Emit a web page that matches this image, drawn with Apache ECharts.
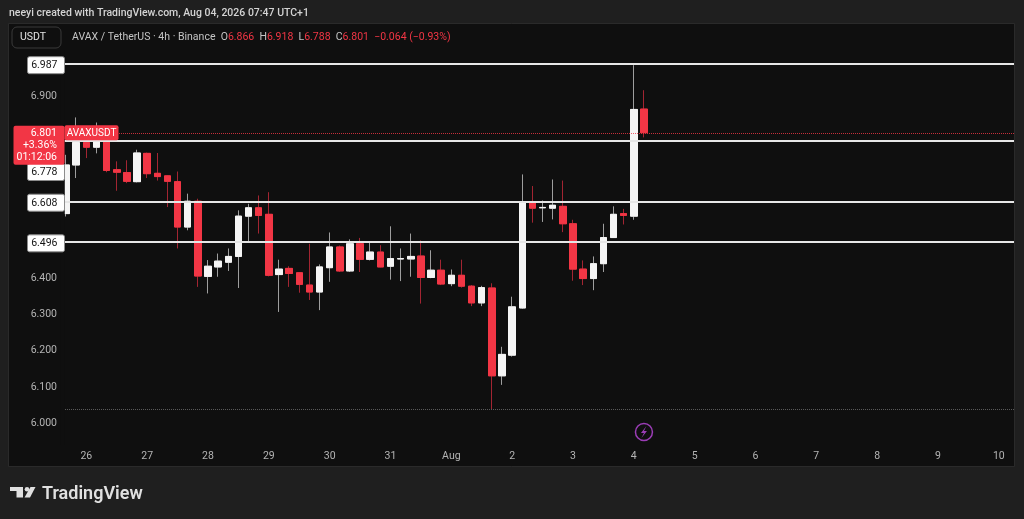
<!DOCTYPE html>
<html>
<head>
<meta charset="utf-8">
<title>AVAX / TetherUS 4h</title>
<script src="https://cdn.jsdelivr.net/npm/echarts@6/dist/echarts.min.js"></script>
<style>
  html, body { margin: 0; padding: 0; background: #1f1f1f; }
  #chart { width: 1024px; height: 519px; }
</style>
</head>
<body>
<div id="chart"></div>
<script>
// 4h candles, AVAXUSDT (Binance)
var opens  = [6.578, 6.712, 6.774, 6.761, 6.776, 6.699, 6.691, 6.666, 6.744, 6.689,
              6.682, 6.666, 6.541, 6.612, 6.405, 6.431, 6.444, 6.460, 6.571, 6.594,
              6.576, 6.410, 6.427, 6.415, 6.381, 6.362, 6.429, 6.486, 6.420, 6.495,
              6.452, 6.472, 6.433, 6.453, 6.453, 6.461, 6.402, 6.422, 6.385, 6.408,
              6.378, 6.332, 6.373, 6.131, 6.188, 6.318, 6.610, 6.594, 6.593, 6.598,
              6.550, 6.425, 6.399, 6.440, 6.512, 6.578, 6.571, 6.866];
var highs  = [6.740, 6.843, 6.790, 6.829, 6.790, 6.722, 6.725, 6.754, 6.746, 6.745,
              6.684, 6.694, 6.633, 6.619, 6.450, 6.468, 6.482, 6.587, 6.605, 6.628,
              6.637, 6.451, 6.433, 6.416, 6.495, 6.438, 6.526, 6.490, 6.507, 6.511,
              6.500, 6.491, 6.543, 6.482, 6.523, 6.504, 6.477, 6.451, 6.424, 6.451,
              6.381, 6.379, 6.386, 6.211, 6.349, 6.686, 6.654, 6.614, 6.672, 6.669,
              6.561, 6.449, 6.460, 6.550, 6.598, 6.591, 6.987, 6.918];
var lows   = [6.570, 6.676, 6.731, 6.744, 6.692, 6.641, 6.662, 6.664, 6.676, 6.669,
              6.596, 6.482, 6.532, 6.376, 6.358, 6.404, 6.420, 6.373, 6.502, 6.523,
              6.405, 6.307, 6.376, 6.360, 6.340, 6.312, 6.390, 6.417, 6.417, 6.417,
              6.449, 6.430, 6.396, 6.392, 6.404, 6.330, 6.400, 6.381, 6.378, 6.374,
              6.323, 6.323, 6.039, 6.106, 6.184, 6.316, 6.553, 6.555, 6.562, 6.527,
              6.393, 6.381, 6.367, 6.417, 6.512, 6.548, 6.561, 6.788];
var closes = [6.712, 6.774, 6.761, 6.776, 6.697, 6.692, 6.667, 6.745, 6.688, 6.680,
              6.667, 6.541, 6.612, 6.406, 6.433, 6.447, 6.460, 6.571, 6.594, 6.573,
              6.408, 6.425, 6.413, 6.383, 6.362, 6.431, 6.486, 6.420, 6.495, 6.452,
              6.472, 6.431, 6.454, 6.454, 6.460, 6.402, 6.422, 6.384, 6.408, 6.378,
              6.332, 6.374, 6.131, 6.190, 6.321, 6.610, 6.593, 6.595, 6.601, 6.550,
              6.425, 6.399, 6.440, 6.512, 6.576, 6.573, 6.865, 6.801];

// horizontal levels drawn on the chart
var levels = [6.987, 6.778, 6.608, 6.496];
var yTicks = [6.0, 6.1, 6.2, 6.3, 6.4, 6.9];
var dayLabels = ['26', '27', '28', '29', '30', '31', 'Aug', '2', '3', '4', '5', '6', '7', '8', '9', '10'];
var slotCount = 94;   // candle slots on the time scale (past + empty future)

var FONT = 'Roboto, "Noto Sans", sans-serif';
var UP = '#f5f5f5', DOWN = '#f23645';

// category slots: 4h steps starting 25 Jul 16:00
var times = [];
var t0 = Date.UTC(2026, 6, 25, 16);
for (var i = 0; i < slotCount; i++) {
  var d = new Date(t0 + i * 4 * 3600 * 1000);
  times.push((d.getUTCMonth() + 1) + '-' + d.getUTCDate() + ' ' + d.getUTCHours() + ':00');
}

var fullData = [], bodyData = [];
opens.forEach(function (o, k) {
  fullData.push([o, closes[k], lows[k], highs[k]]);
  bodyData.push([o, closes[k], Math.min(o, closes[k]), Math.max(o, closes[k])]);
});

var last = closes.length - 1;
var lastClose = closes[last];
var change = lastClose - closes[last - 1];
var changePct = change / closes[last - 1] * 100;
var lowest = Math.min.apply(null, lows);

var chart = echarts.init(document.getElementById('chart'));

var option = {
  backgroundColor: '#1f1f1f',
  animation: false,
  grid: { left: 61, right: 10, top: 53.2, bottom: 77.5, outerBoundsMode: 'none' },
  xAxis: {
    type: 'category',
    data: times,
    boundaryGap: true,
    axisLine: { show: false },
    axisTick: { show: false },
    splitLine: { show: false },
    axisLabel: {
      color: '#b4b4b4', fontSize: 10.5, fontFamily: FONT, margin: 9,
      interval: function (idx) { return idx % 6 === 2; },
      formatter: function (v, idx) { return dayLabels[(idx - 2) / 6]; }
    }
  },
  yAxis: {
    type: 'value',
    position: 'left',
    min: 5.95,
    max: 7.02,
    axisLine: { show: false },
    axisTick: { show: false },
    splitLine: { show: false },
    axisLabel: {
      customValues: yTicks,
      color: '#b4b4b4', fontSize: 10.5, fontFamily: FONT, margin: 4,
      formatter: function (v) { return v.toFixed(3); }
    }
  },
  series: [{
    name: 'wicks',
    type: 'candlestick',
    data: fullData,
    barWidth: 7,
    itemStyle: { color: UP, color0: DOWN, borderColor: '#9e9e9e', borderColor0: '#a32532', borderWidth: 1 },
    markLine: {
      silent: true,
      symbol: ['none', 'none'],
      label: { show: false },
      data: levels.map(function (v) {
        return { yAxis: v, lineStyle: { color: '#e6e6e6', width: 2, type: 'solid' } };
      }).concat([
        { yAxis: lastClose, lineStyle: { color: '#f23645', width: 1, type: 'dotted', opacity: 0.8 } },
        { yAxis: lowest, lineStyle: { color: '#5a5a5a', width: 1, type: 'dotted' } }
      ])
    }
  }, {
    name: 'bodies',
    type: 'candlestick',
    data: bodyData,
    barWidth: 7,
    itemStyle: { color: UP, color0: DOWN, borderColor: UP, borderColor0: DOWN, borderWidth: 1 }
  }]
};
chart.setOption(option);

// overlays placed through the chart's own scales
function py(v) { return chart.convertToPixel({ yAxisIndex: 0 }, v); }
function px(i) { return chart.convertToPixel({ xAxisIndex: 0 }, times[i]); }

var g = [{
  type: 'rect', z: 0,
  shape: { x: 8.5, y: 23.5, width: 1006, height: 443 },
  style: { fill: '#0f0f0f', stroke: '#2a2a2a', lineWidth: 1 }
}, {
  // price scale edge
  type: 'rect', z: 20,
  shape: { x: 60.5, y: 50, width: 4.3, height: 395 },
  style: { fill: '#0f0f0f' }
}, {
  type: 'text', z: 30, x: 9, y: 13.5,
  style: { text: 'neeyi created with TradingView.com, Aug 04, 2026 07:47 UTC+1', fill: '#d4d4d4',
           font: '500 10.5px ' + FONT, verticalAlign: 'middle' }
}, {
  type: 'rect', z: 30,
  shape: { x: 12, y: 27, width: 49, height: 21, r: 5 },
  style: { fill: '#0f0f0f', stroke: '#3a3a3a', lineWidth: 1 }
}, {
  type: 'text', z: 31, x: 20, y: 37.8,
  style: { text: 'USDT', fill: '#e2e2e2', font: '10.5px ' + FONT, verticalAlign: 'middle' }
}, {
  type: 'text', z: 31, x: 72, y: 37.5,
  style: {
    text: '{g|AVAX / TetherUS · 4h · Binance}  {g|O}{r|' + opens[last].toFixed(3) + '}  {g|H}{r|' +
          highs[last].toFixed(3) + '}  {g|L}{r|' + lows[last].toFixed(3) + '}  {g|C}{r|' +
          lastClose.toFixed(3) + '}  {r|\u2212' + Math.abs(change).toFixed(3) + ' (\u2212' +
          Math.abs(changePct).toFixed(2) + '%)}',
    font: '10.5px ' + FONT, verticalAlign: 'middle',
    rich: { g: { fill: '#c4c4c4', font: '10.5px ' + FONT }, r: { fill: '#f23645', font: '10.5px ' + FONT } }
  }
}];

levels.forEach(function (v) {
  var y = py(v) + (v === 6.778 ? 31 : 0);
  g.push({
    type: 'rect', z: 30,
    shape: { x: 27.5, y: y - 8.5, width: 37, height: 17, r: 2 },
    style: { fill: '#ffffff', stroke: '#8c8c8c', lineWidth: 1 }
  }, {
    type: 'text', z: 31, x: 57.5, y: y + 0.5,
    style: { text: v.toFixed(3), fill: '#131313', font: '10.5px ' + FONT, align: 'right', verticalAlign: 'middle' }
  });
});

var yc = py(lastClose);
g.push({
  type: 'rect', z: 32,
  shape: { x: 13.5, y: yc - 7, width: 51, height: 39, r: 2 },
  style: { fill: '#f23645' }
}, {
  type: 'text', z: 33, x: 57, y: yc + 0.5,
  style: { text: lastClose.toFixed(3), fill: '#ffffff', font: '10.5px ' + FONT, align: 'right', verticalAlign: 'middle' }
}, {
  type: 'text', z: 33, x: 57, y: yc + 13,
  style: { text: '+3.36%', fill: '#ffffff', font: '10.5px ' + FONT, align: 'right', verticalAlign: 'middle' }
}, {
  type: 'text', z: 33, x: 57, y: yc + 25,
  style: { text: '01:12:06', fill: '#ffffff', font: '10.5px ' + FONT, align: 'right', verticalAlign: 'middle' }
}, {
  type: 'rect', z: 32,
  shape: { x: 64.5, y: yc - 7.5, width: 54, height: 15, r: 2 },
  style: { fill: '#f23645' }
}, {
  type: 'text', z: 33, x: 91.5, y: yc + 0.5,
  style: { text: 'AVAXUSDT', fill: '#ffffff', font: '10px ' + FONT, align: 'center', verticalAlign: 'middle' }
});

// event marker under the last candle
var ex = px(last), ey = 432;
g.push({
  type: 'circle', z: 30,
  shape: { cx: ex, cy: ey, r: 8.5 },
  style: { fill: 'none', stroke: '#9b3db6', lineWidth: 1.5 }
}, {
  type: 'polygon', z: 31,
  shape: { points: [[ex + 2.5, ey - 6], [ex - 3, ey + 1], [ex, ey + 1], [ex - 2.5, ey + 6], [ex + 3, ey - 1], [ex, ey - 1]] },
  style: { fill: '#9b3db6' }
});

// TradingView logo
g.push({
  type: 'rect', z: 30, shape: { x: 10, y: 487, width: 13, height: 4 }, style: { fill: '#e0e0e0' }
}, {
  type: 'rect', z: 30, shape: { x: 16.5, y: 487, width: 6.5, height: 10.5 }, style: { fill: '#e0e0e0' }
}, {
  type: 'circle', z: 30, shape: { cx: 27, cy: 489.2, r: 2.3 }, style: { fill: '#e0e0e0' }
}, {
  type: 'polygon', z: 30, shape: { points: [[30.5, 487], [35.5, 487], [30, 497.5], [24.5, 497.5]] }, style: { fill: '#e0e0e0' }
}, {
  type: 'text', z: 30, x: 42, y: 494,
  style: { text: 'TradingView', fill: '#e0e0e0', font: '600 18px ' + FONT, verticalAlign: 'middle' }
});

chart.setOption({ graphic: g }, { replaceMerge: ['graphic'] });
</script>
</body>
</html>
